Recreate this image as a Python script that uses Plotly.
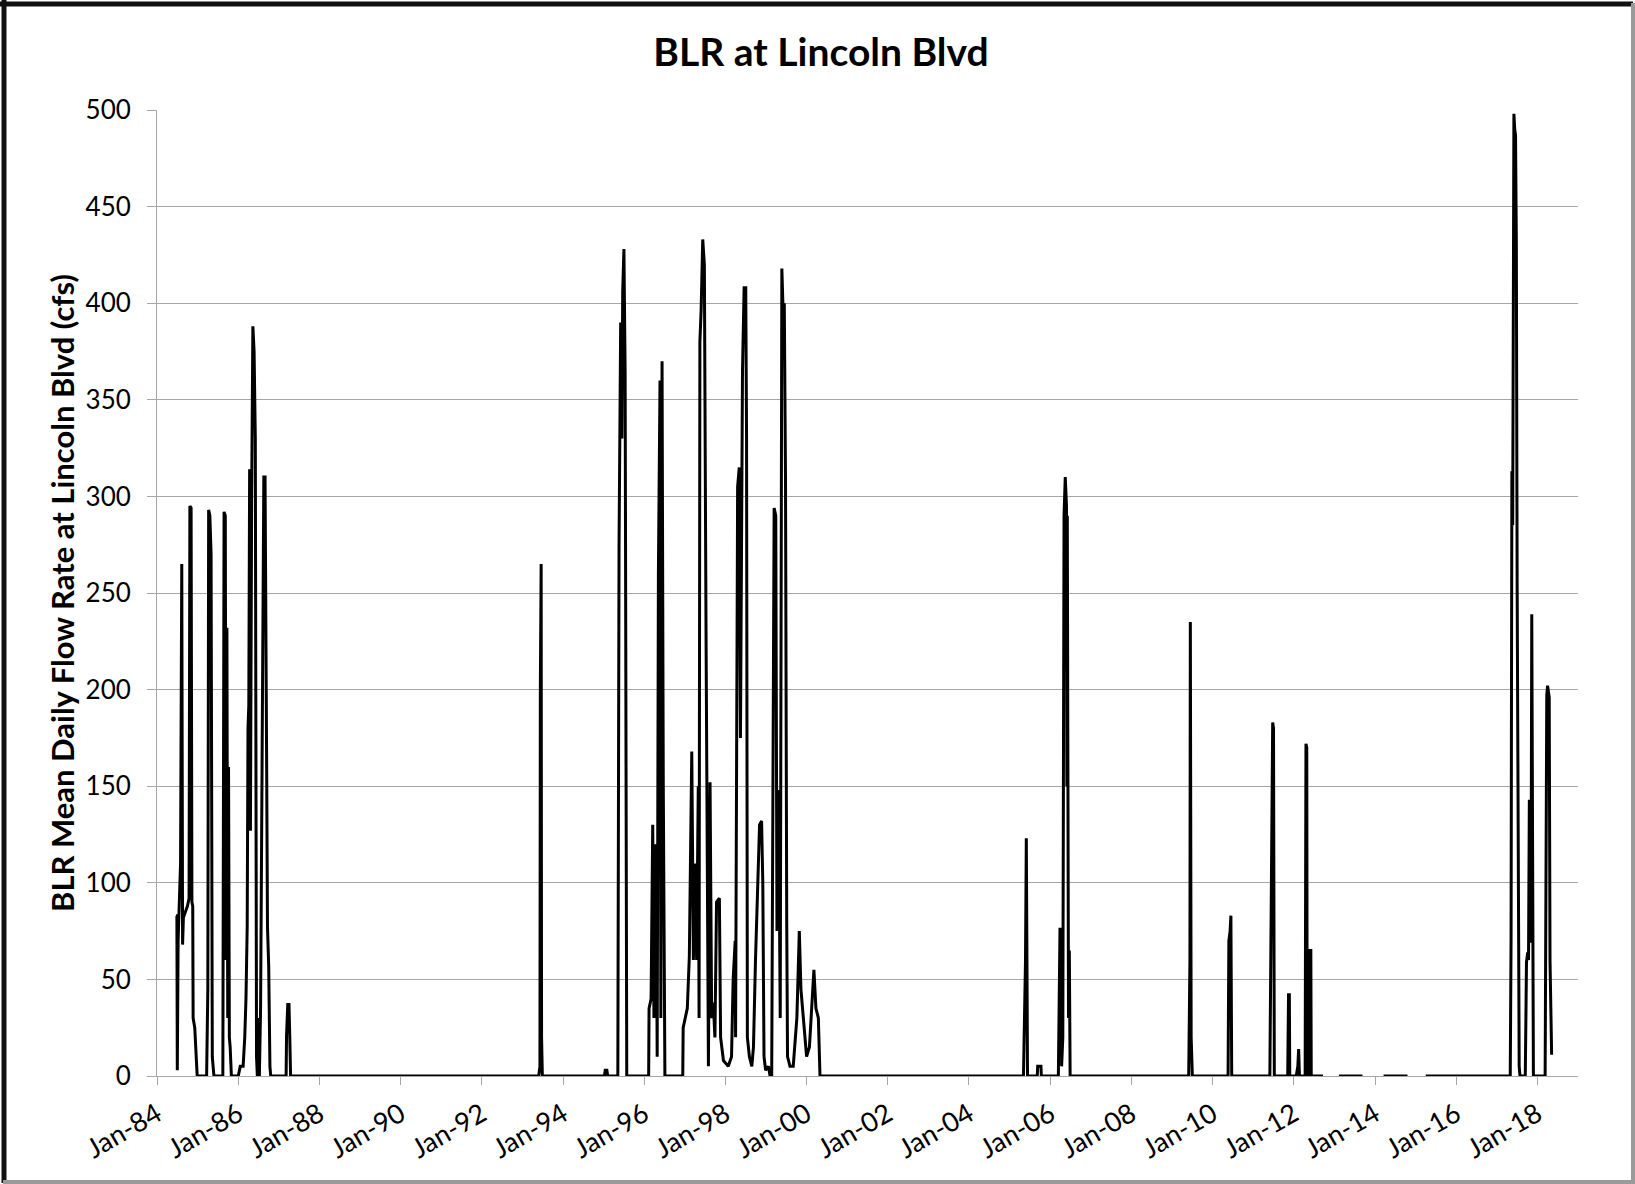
import datetime as dt
import plotly.graph_objects as go

# ---- data (decimal year, mean daily flow in cfs); None = missing record ----
year_pts = [
    1984.47, 1984.49, 1984.50, 1984.52, 1984.55, 1984.58, 1984.61, 1984.62, 1984.63, 1984.65,
    1984.70, 1984.75, 1984.79, 1984.81, 1984.84, 1984.85, 1984.86, 1984.88, 1984.89, 1984.93,
    1984.96, 1984.99, 1985.22, 1985.25, 1985.27, 1985.30, 1985.33, 1985.36, 1985.38, 1985.40,
    1985.62, 1985.65, 1985.68, 1985.70, 1985.72, 1985.74, 1985.76, 1985.78, 1985.80, 1985.83,
    1986.00, 1986.05, 1986.12, 1986.16, 1986.19, 1986.22, 1986.24, 1986.26, 1986.28, 1986.30,
    1986.33, 1986.36, 1986.39, 1986.42, 1986.45, 1986.47, 1986.50, 1986.52, 1986.55, 1986.58,
    1986.61, 1986.63, 1986.66, 1986.68, 1986.70, 1986.72, 1986.75, 1986.78, 1986.80,
    1987.18, 1987.19, 1987.22, 1987.25, 1987.27, 1987.29,
    1993.40, 1993.43, 1993.44, 1993.46, 1993.47, 1993.49,
    1995.02, 1995.04, 1995.08, 1995.10,
    1995.35, 1995.38, 1995.42, 1995.45, 1995.47, 1995.50, 1995.53, 1995.55, 1995.57,
    1996.11, 1996.12, 1996.17, 1996.21, 1996.24, 1996.27, 1996.31, 1996.32, 1996.35, 1996.39,
    1996.41, 1996.44, 1996.47, 1996.50, 1996.51,
    1996.95, 1996.96, 1997.06, 1997.11, 1997.17, 1997.21, 1997.25, 1997.29, 1997.33, 1997.35,
    1997.37, 1997.40, 1997.44, 1997.48, 1997.52, 1997.56, 1997.58, 1997.62, 1997.66, 1997.70,
    1997.74, 1997.78, 1997.85, 1997.88, 1997.95, 1998.07, 1998.15, 1998.19, 1998.24, 1998.25,
    1998.30, 1998.34, 1998.37, 1998.42, 1998.46, 1998.50, 1998.52, 1998.54, 1998.59, 1998.65,
    1998.69, 1998.74, 1998.79, 1998.84, 1998.89, 1998.92, 1998.95, 1998.99, 1999.06, 1999.10,
    1999.14, 1999.18, 1999.20, 1999.24, 1999.27, 1999.31, 1999.35, 1999.39, 1999.43, 1999.45,
    1999.48, 1999.51, 1999.53, 1999.59, 1999.67, 1999.76, 1999.80, 1999.82, 1999.86, 1999.92,
    2000.00, 2000.07, 2000.12, 2000.18, 2000.23, 2000.29, 2000.33,
    2005.34, 2005.39, 2005.41, 2005.44,
    2005.68, 2005.69, 2005.77, 2005.78,
    2006.20, 2006.24, 2006.27, 2006.28, 2006.31, 2006.34, 2006.37, 2006.40, 2006.41, 2006.42,
    2006.44, 2006.45, 2006.47, 2006.49,
    2009.41, 2009.44, 2009.45, 2009.47, 2009.50,
    2010.38, 2010.40, 2010.43, 2010.45, 2010.47,
    2011.41, 2011.46, 2011.48, 2011.50, 2011.52,
    2011.85, 2011.87, 2011.89, 2011.90,
    2012.06, 2012.08, 2012.10, 2012.12, 2012.13, 2012.14,
    2012.28, 2012.30, 2012.32, 2012.33,
    2012.39, 2012.40, 2012.42, 2012.43,
    2012.72, 2012.73,
    2013.11, 2013.69, 2013.70,
    2014.21, 2014.80, 2014.81,
    2015.25, 2017.33, 2017.35, 2017.37, 2017.39, 2017.42, 2017.44, 2017.46, 2017.48, 2017.50,
    2017.55, 2017.57, 2017.70, 2017.71, 2017.73, 2017.76, 2017.78, 2017.80, 2017.84, 2017.86,
    2017.88, 2017.90, 2018.19, 2018.21, 2018.23, 2018.25, 2018.29, 2018.31, 2018.35,
]

flow_cfs = [
    83, 83, 3, 70, 90, 110, 265, 130, 68, 82,
    85, 88, 92, 295, 294, 197, 90, 88, 30, 25,
    7, 0, 0, 45, 293, 290, 270, 10, 5, 0,
    0, 292, 290, 60, 232, 30, 160, 20, 15, 0,
    0, 5, 5, 20, 40, 77, 180, 192, 314, 127,
    300, 388, 375, 330, 10, 0, 30, 0, 35, 136,
    288, 310, 310, 189, 159, 77, 57, 5, 0,
    0, 21, 37, 37, 20, 0,
    0, 5, 200, 265, 20, 0,
    0, 3, 3, 0,
    0, 275, 390, 330, 406, 428, 364, 150, 0,
    0, 35, 40, 130, 30, 120, 50, 10, 260, 360,
    30, 370, 151, 30, 0,
    0, 25, 35, 62, 168, 60, 110, 60, 150, 30,
    380, 396, 433, 420, 235, 20, 5, 152, 30, 38,
    20, 90, 92, 20, 8, 5, 10, 50, 70, 20,
    305, 315, 175, 365, 408, 408, 330, 20, 10, 5,
    15, 60, 100, 130, 132, 100, 10, 3, 5, 0,
    0, 200, 294, 290, 75, 148, 30, 418, 390, 400,
    310, 80, 10, 5, 5, 30, 55, 75, 45, 30,
    10, 15, 35, 55, 35, 30, 0,
    0, 60, 123, 0,
    0, 5, 5, 0,
    0, 76, 76, 5, 20, 290, 310, 295, 150, 290,
    180, 30, 65, 0,
    0, 60, 235, 20, 0,
    0, 70, 75, 83, 0,
    0, 130, 183, 180, 0,
    0, 42, 42, 0,
    0, 3, 5, 14, 5, 0,
    0, 172, 170, 0,
    0, 65, 65, 0,
    0, None,
    0, 0, None,
    0, 0, None,
    0, 0, 71, 313, 285, 498, 490, 487, 431, 252,
    5, 0, 0, 21, 59, 64, 60, 143, 69, 239,
    70, 0, 0, 100, 197, 202, 196, 60, 11,
]

y_tick_vals = [0, 50, 100, 150, 200, 250, 300, 350, 400, 450, 500]


def to_date(y):
    yr = int(y)
    return dt.datetime(yr, 1, 1) + dt.timedelta(days=(y - yr) * 365.25)


dates = [to_date(y) for y in year_pts]

# ---- layout geometry (pixels) ----
W, H = 1635, 1184
L, R, T, B = 157, 57, 110, 108
PW, PH = W - L - R, H - T - B


def px(x):
    return (x - L) / PW


def py(y):
    return (H - B - y) / PH


fig = go.Figure()
fig.add_trace(go.Scatter(
    x=dates, y=flow_cfs, mode="lines",
    line=dict(color="#000000", width=3),
    connectgaps=False, showlegend=False, hoverinfo="x+y",
))

grid = "#a6a6a6"
font_main = "Lato, 'Open Sans', sans-serif"

fig.update_layout(
    width=W, height=H,
    margin=dict(l=L, r=R, t=T, b=B),
    paper_bgcolor="white", plot_bgcolor="white",
    title=dict(text="<b>BLR at Lincoln Blvd</b>", x=821 / W, xanchor="center",
               y=1 - 52 / H, yanchor="middle",
               font=dict(family=font_main, size=39, color="#000000")),
    font=dict(family=font_main, color="#000000"),
    xaxis=dict(
        type="date",
        range=[dt.datetime(1984, 1, 1), dt.datetime(2019, 1, 1)],
        tick0="1984-01-01", dtick="M24", tickformat="%b-%y",
        tickangle=-30, tickfont=dict(size=27, family=font_main, color="#000"),
        ticks="outside", ticklen=8, tickcolor=grid, tickwidth=1,
        ticklabelstandoff=3,
        showgrid=False, showline=True, linecolor=grid, linewidth=1,
        zeroline=False,
    ),
    yaxis=dict(
        range=[0, 500], tickvals=y_tick_vals,
        tickfont=dict(size=26, family=font_main, color="#000"),
        ticks="outside", ticklen=9, tickcolor=grid, tickwidth=1,
        ticklabelstandoff=11,
        showgrid=True, gridcolor=grid, gridwidth=1,
        showline=True, linecolor=grid, linewidth=1,
        zeroline=False,
    ),
    annotations=[dict(
        text="<b>BLR Mean Daily Flow Rate at Lincoln Blvd (cfs)</b>",
        xref="paper", yref="paper", x=px(62), y=0.5,
        xanchor="center", yanchor="middle", textangle=-90, showarrow=False,
        font=dict(family=font_main, size=31, color="#000000"),
    )],
    shapes=[
        dict(type="line", xref="paper", yref="paper", x0=px(0), x1=px(1633), y0=py(4), y1=py(4),
             line=dict(color="#111111", width=5)),
        dict(type="line", xref="paper", yref="paper", x0=px(4), x1=px(4), y0=py(0), y1=py(1183),
             line=dict(color="#111111", width=5)),
        dict(type="line", xref="paper", yref="paper", x0=px(3), x1=px(1635), y0=py(1182), y1=py(1182),
             line=dict(color="#9a9a9a", width=4)),
        dict(type="line", xref="paper", yref="paper", x0=px(1633), x1=px(1633), y0=py(3), y1=py(1184),
             line=dict(color="#9a9a9a", width=4)),
    ],
)

fig.write_html("out.html", config={"displayModeBar": False},
               post_script="document.body.style.margin='0px';")
